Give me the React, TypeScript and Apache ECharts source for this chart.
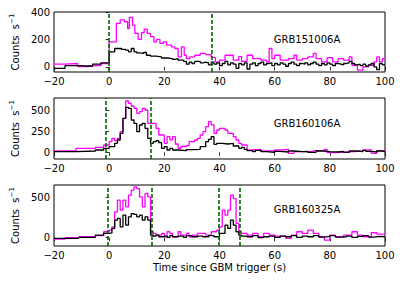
import { useEffect, useRef } from 'react';
import * as echarts from 'echarts';

const xTickLabels = [-20, 0, 20, 40, 60, 80, 100];
const grbNames = ['GRB151006A', 'GRB160106A', 'GRB160325A'];
const yTicks1 = [0, 200, 400];
const yTicks2 = [0, 250, 500];
const yTicks3 = [0, 500];
const yRange1 = [-37, 400];
const yRange2 = [-80, 652];
const yRange3 = [-103, 656];
const triggerLines1 = [0, 37.3];
const triggerLines2 = [-1.3, 15];
const triggerLines3 = [-0.5, 15.6, 39.6, 47.4];

// [bin start (s), counts/s]
const magenta1 = [[-20,20],[-16,25],[-11.5,3],[-7.5,10],[-3,25],[0,183],[2.6,317],[4,342],[5.5,329],[6.7,280],[7.3,361],[8.5,305],[9.3,244],[10.5,200],[11.7,249],[12.7,276],[13.8,244],[15,220],[16.2,183],[17.2,200],[18.4,171],[19.6,183],[20.8,159],[22.6,146],[23.8,134],[25,73],[26.2,146],[27.2,85],[28,61],[29.2,73],[31,85],[33,98],[35,90],[37,70],[38.5,37],[40,50],[42,85],[45,49],[47,75],[48,40],[50,85],[52,60],[55,49],[57,37],[58,134],[59,60],[60,85],[62,49],[65,60],[67,85],[68,49],[70,60],[72,73],[74,98],[75,60],[77,37],[79,67],[81,37],[83,60],[85,49],[87,73],[88,12],[90,-24],[92,0],[94,12],[96,37],[97,73],[98,37],[99,60]];
const black1 = [[-20,-10],[-16,10],[-11,5],[-6,20],[-3,30],[0,110],[2,134],[4.5,128],[6,122],[7,110],[8,134],[9,110],[10,102],[11,98],[12.5,105],[13.5,85],[15,78],[17,73],[19,65],[21,61],[23,55],[24,60],[25,49],[27,40],[28,20],[29,35],[30,25],[31,40],[33,30],[34,35],[35,30],[36,15],[37,35],[38,20],[39,30],[40,10],[41,25],[42,40],[43,15],[44,30],[45,20],[46,-10],[47,25],[48,15],[49,30],[50,-15],[51,20],[52,30],[53,10],[54,25],[55,35],[56,15],[57,25],[58,30],[59,10],[60,25],[61,15],[62,30],[63,20],[64,5],[65,25],[66,35],[67,20],[68,10],[69,25],[70,20],[71,30],[72,15],[73,25],[74,35],[75,20],[76,10],[77,25],[78,15],[79,30],[80,20],[81,10],[82,25],[83,20],[84,15],[85,25],[86,30],[87,40],[88,25],[89,15],[90,20],[91,10],[92,20],[93,5],[94,15],[95,25],[96,0],[97,-20],[98,25],[99,15]];

const magenta2 = [[-20,16],[-12,48],[-5,60],[-2,88],[0,128],[1,168],[2,140],[3,168],[4,248],[5,408],[6,616],[7,588],[8,556],[9,528],[10,468],[11,488],[12,528],[13,508],[14,348],[16,348],[17,288],[18,208],[20,108],[21,188],[22,150],[23,188],[24,100],[25,48],[26,70],[28,80],[29,128],[31,148],[32,168],[33,208],[34,248],[35,308],[36,368],[37,330],[38,228],[39,268],[40,288],[42,268],[43,228],[45,188],[46,148],[47,108],[48,88],[50,28],[52,36],[55,16],[60,28],[62,36],[65,-12],[67,8],[70,8],[74,20],[78,36],[79,-4],[82,4],[86,12],[90,16],[92,28],[95,-12],[97,20]];
const black2 = [[-20,8],[-12,16],[-5,28],[-2,48],[0,68],[2,108],[3,148],[4,228],[5,408],[6,540],[7,528],[8,388],[9,348],[10,248],[11,328],[12,348],[13,288],[14,168],[15,108],[16,128],[17,140],[18,116],[19,48],[20,68],[21,28],[22,48],[23,28],[25,20],[28,32],[30,36],[33,68],[35,128],[36,156],[37,188],[38,96],[39,108],[41,100],[43,108],[45,76],[47,48],[48,60],[49,36],[50,20],[52,8],[53,24],[55,8],[57,0],[60,12],[62,4],[65,16],[67,8],[70,12],[72,0],[75,16],[78,8],[80,4],[83,12],[85,0],[87,16],[90,8],[92,24],[93,12],[95,4],[97,16],[99,8]];

const magenta3 = [[-20,-16],[-16,0],[-11,12],[-5,25],[-2,74],[0,95],[1,136],[2,322],[3,467],[4,343],[5,467],[6,384],[7,529],[8,591],[9,632],[10,611],[11,508],[12,384],[13,549],[14,508],[15,74],[16,54],[17,33],[19,54],[20,12],[21,74],[22,54],[23,12],[25,74],[26,33],[28,54],[29,12],[30,33],[32,54],[35,33],[37,74],[39,95],[40,136],[41,343],[42,280],[43,343],[44,529],[45,487],[46,178],[47,74],[48,54],[50,33],[52,54],[54,12],[56,54],[58,33],[60,21],[64,-8],[66,33],[68,74],[70,54],[72,95],[74,54],[76,12],[78,-29],[80,33],[82,12],[85,33],[88,74],[90,33],[92,12],[95,62],[97,45]];
const black3 = [[-20,-8],[-11,4],[-5,33],[-2,54],[0,60],[1,116],[2,219],[3,240],[4,136],[5,281],[6,157],[7,260],[8,301],[9,290],[10,260],[11,281],[12,219],[13,260],[14,219],[15,33],[16,21],[17,33],[18,12],[20,21],[21,4],[22,25],[23,12],[25,21],[27,4],[28,25],[30,12],[32,21],[34,12],[36,25],[38,12],[40,54],[42,157],[43,116],[44,219],[45,157],[46,74],[47,33],[48,21],[50,12],[52,25],[54,0],[56,12],[58,21],[60,4],[62,21],[64,12],[66,25],[68,4],[70,21],[72,12],[74,25],[76,8],[78,16],[80,25],[82,8],[84,12],[86,21],[88,4],[90,16],[92,25],[94,8],[96,16],[98,12]];

const X_END = 100;

function stepData(pairs: number[][]) {
  const last = pairs[pairs.length - 1];
  return [...pairs, [X_END, last[1]]];
}

const fmt = (v: number) => String(v).replace('-', '\u2212');
const FONT = 'DejaVu Sans';

export default function App() {
  const ref = useRef<HTMLDivElement>(null);
  useEffect(() => {
    if (!ref.current) return;
    const chart = echarts.init(ref.current, null, { renderer: 'svg' });
    const grids = [
      { left: 52, top: 12, width: 333, height: 60 },
      { left: 52, top: 98, width: 333, height: 61 },
      { left: 52, top: 185, width: 333, height: 61 },
    ].map((g) => ({ ...g, show: true, borderColor: '#000', borderWidth: 1, backgroundColor: 'transparent' }));

    const yTicks = [yTicks1, yTicks2, yTicks3];
    const yRanges = [yRange1, yRange2, yRange3];
    const lines = [triggerLines1, triggerLines2, triggerLines3];
    const mags = [magenta1, magenta2, magenta3];
    const blks = [black1, black2, black3];

    const xAxis = [0, 1, 2].map((i) => ({
      type: 'value',
      gridIndex: i,
      min: xTickLabels[0],
      max: xTickLabels[xTickLabels.length - 1],
      interval: 20,
      axisLine: { show: false },
      axisTick: { show: true, length: 3.5, lineStyle: { color: '#000', width: 0.8 } },
      axisLabel: { fontFamily: FONT, fontSize: 10, color: '#000', margin: 4, formatter: fmt },
      splitLine: { show: false },
      name: i === 2 ? 'Time since GBM trigger (s)' : '',
      nameLocation: 'middle',
      nameGap: 16,
      nameTextStyle: { fontFamily: FONT, fontSize: 10, color: '#000', verticalAlign: 'top' },
    }));

    const yAxis = [0, 1, 2].map((i) => ({
      type: 'value',
      gridIndex: i,
      min: yRanges[i][0],
      max: yRanges[i][1],
      axisLine: { show: false },
      axisTick: { show: true, length: 3.5, customValues: yTicks[i], lineStyle: { color: '#000', width: 0.8 } },
      axisLabel: { fontFamily: FONT, fontSize: 10, color: '#000', margin: 4, customValues: yTicks[i], formatter: fmt },
      splitLine: { show: false },
      name: '{a|Counts  s}{b|\u22121}',
      nameLocation: 'middle',
      nameRotate: 90,
      nameGap: 32,
      nameTextStyle: {
        rich: {
          a: { fontFamily: FONT, fontSize: 10, color: '#000', lineHeight: 14 },
          b: { fontFamily: FONT, fontSize: 7, color: '#000', verticalAlign: 'top', lineHeight: 14, padding: [0, 0, 5, 0] },
        },
      },
    }));

    const series: any[] = [];
    [0, 1, 2].forEach((i) => {
      series.push({
        type: 'line', xAxisIndex: i, yAxisIndex: i, step: 'end', symbol: 'none',
        data: stepData(mags[i]), lineStyle: { color: '#ff00ff', width: 1.3 }, z: 2,
      });
      series.push({
        type: 'line', xAxisIndex: i, yAxisIndex: i, step: 'end', symbol: 'none',
        data: stepData(blks[i]), lineStyle: { color: '#000', width: 1.3 }, z: 3,
        markLine: {
          silent: true, symbol: 'none', label: { show: false }, z: 4,
          lineStyle: { color: '#006400', type: [4, 2], width: 1.6 },
          data: lines[i].map((x) => ({ xAxis: x })),
        },
      });
    });

    const titleY = [39, 123, 209];
    chart.setOption({
      animation: false,
      grid: grids,
      xAxis,
      yAxis,
      series,
      graphic: grbNames.map((n, i) => ({
        type: 'text', x: 307, y: titleY[i],
        style: { text: n, fontFamily: FONT, fontSize: 10, fill: '#000', align: 'center', verticalAlign: 'middle' },
      })),
    });
    return () => chart.dispose();
  }, []);
  return <div ref={ref} style={{ position: 'fixed', left: 0, top: 0, width: 403, height: 284, background: '#fff' }} />;
}
